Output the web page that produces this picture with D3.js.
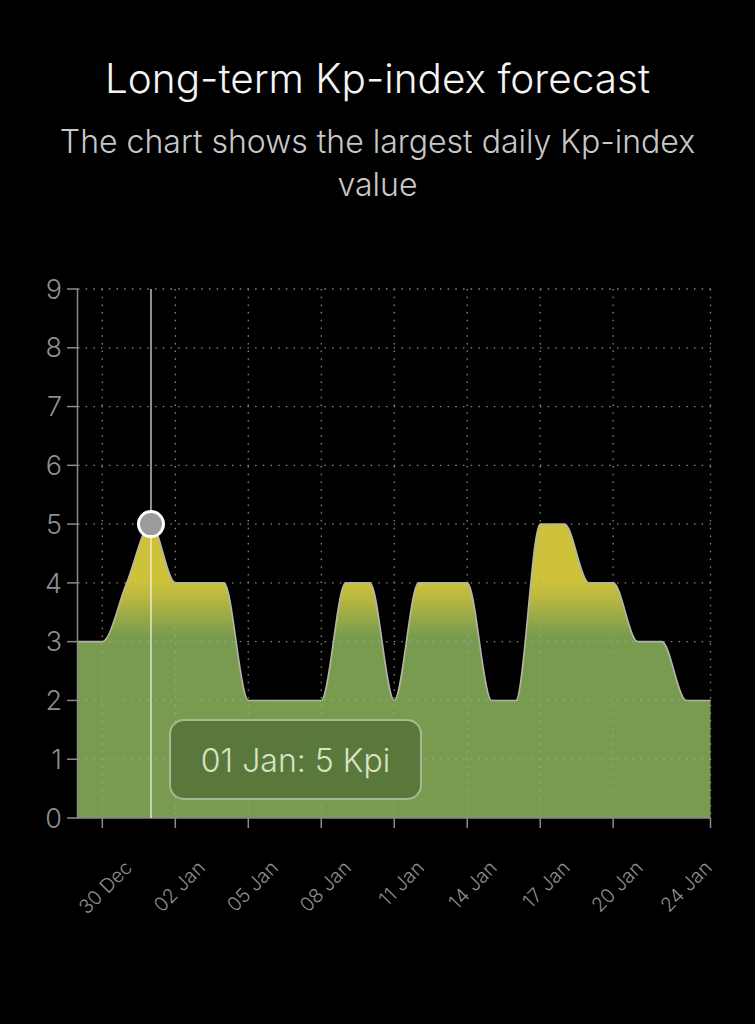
<!DOCTYPE html>
<html><head><meta charset="utf-8">
<script src="https://cdn.jsdelivr.net/npm/d3@7"></script>
<style>html,body{margin:0;background:#000;} svg{display:block}</style>
</head><body><svg id="c" width="755" height="1024"></svg>
<script>
const dates = ["2023-12-29","2023-12-30","2023-12-31","2024-01-01","2024-01-02","2024-01-03","2024-01-04","2024-01-05","2024-01-06","2024-01-07","2024-01-08","2024-01-09","2024-01-10","2024-01-11","2024-01-12","2024-01-13","2024-01-14","2024-01-15","2024-01-16","2024-01-17","2024-01-18","2024-01-19","2024-01-20","2024-01-21","2024-01-22","2024-01-23","2024-01-24"];
const kp = [3,3,4,5,4,4,4,2,2,2,2,4,4,2,4,4,4,2,2,5,5,4,4,3,3,2,2];
const tickDates = ["2023-12-30","2024-01-02","2024-01-05","2024-01-08","2024-01-11","2024-01-14","2024-01-17","2024-01-20","2024-01-24"];
const tickLabels = ["30 Dec","02 Jan","05 Jan","08 Jan","11 Jan","14 Jan","17 Jan","20 Jan","24 Jan"];
const yTicks = [0,1,2,3,4,5,6,7,8,9];
const titleText = "Long-term Kp-index forecast";
const subtitleLines = ["The chart shows the largest daily Kp-index","value"];
const highlightDate = "2024-01-01";
const highlightLabel = "01 Jan: 5 Kpi";

const parse = d3.utcParse("%Y-%m-%d");
const data = dates.map((d,i)=>({date:parse(d), v:kp[i]}));
const svg = d3.select("#c");
const FONT = "Inter, 'Helvetica Neue', 'Open Sans', sans-serif";

const x = d3.scaleUtc().domain(d3.extent(data,d=>d.date)).range([78,710.5]);
const y = d3.scaleLinear().domain([0,9]).range([818,289]);

// Title
svg.append("text").attr("x",377.5).attr("y",93).attr("text-anchor","middle")
  .attr("fill","#f4f4f4").attr("font-family",FONT).attr("font-weight",300)
  .attr("font-size",40.5).text(titleText);
const sub = svg.append("text").attr("text-anchor","middle").attr("fill","#c8c8c8")
  .attr("font-family",FONT).attr("font-weight",300).attr("font-size",32);
subtitleLines.forEach((l,i)=>sub.append("tspan").attr("x",377.5).attr("y",153+i*43).text(l));

// gradient
const defs = svg.append("defs");
const g = defs.append("linearGradient").attr("id","ag").attr("gradientUnits","userSpaceOnUse")
  .attr("x1",0).attr("x2",0).attr("y1",y(4.0)).attr("y2",y(3.1));
g.append("stop").attr("offset",0).attr("stop-color","#cdc23a");
g.append("stop").attr("offset",0.35).attr("stop-color","#b4b540");
g.append("stop").attr("offset",1).attr("stop-color","#799b4f");

// area
const area = d3.area().x(d=>x(d.date)).y0(y(0)).y1(d=>y(d.v)).curve(d3.curveMonotoneX);
const line = d3.line().x(d=>x(d.date)).y(d=>y(d.v)).curve(d3.curveMonotoneX);
svg.append("path").datum(data).attr("d",area).attr("fill","url(#ag)");
svg.append("path").datum(data).attr("d",line).attr("fill","none").attr("stroke","#b4b4a8").attr("stroke-width",1.6);

// grid
const grid = svg.append("g").attr("stroke","#a8a8a8").attr("stroke-width",1.3)
  .attr("stroke-dasharray","1.5 6.2").attr("opacity",0.8);
yTicks.filter(t=>t>0).forEach(t=>grid.append("line").attr("x1",x.range()[0]).attr("x2",x.range()[1]+1).attr("y1",y(t)).attr("y2",y(t)));
tickDates.map(parse).forEach(d=>grid.append("line").attr("x1",x(d)).attr("x2",x(d)).attr("y1",y(9)).attr("y2",y(0)));

// y axis
const ya = svg.append("g");
ya.append("line").attr("x1",77.5).attr("x2",77.5).attr("y1",y(9)).attr("y2",y(0)).attr("stroke","#8a8a8a").attr("stroke-width",1.5);
yTicks.forEach(t=>{
  ya.append("line").attr("x1",67).attr("x2",78).attr("y1",y(t)).attr("y2",y(t)).attr("stroke","#8a8a8a").attr("stroke-width",1.5);
  ya.append("text").attr("x",62).attr("y",y(t)).attr("dy","0.36em").attr("text-anchor","end")
    .attr("fill","#8e8e8e").attr("font-family",FONT).attr("font-weight",300).attr("font-size",27).text(t);
});

// x axis
const xa = svg.append("g");
xa.append("line").attr("x1",77).attr("x2",711).attr("y1",y(0)).attr("y2",y(0)).attr("stroke","#8a8a8a").attr("stroke-width",1.5);
tickDates.map(parse).forEach((d,i)=>{
  const tx = x(d);
  xa.append("line").attr("x1",tx).attr("x2",tx).attr("y1",y(0)).attr("y2",y(0)+10).attr("stroke","#8a8a8a").attr("stroke-width",1.5);
  const ax = Math.min(tx+31, 713);
  xa.append("text").attr("transform",`translate(${ax},869) rotate(-45)`).attr("text-anchor","end")
    .attr("fill","#8e8e8e").attr("font-family",FONT).attr("font-weight",300).attr("font-size",19.5).text(tickLabels[i]);
});

// highlight
const hd = parse(highlightDate);
const hv = data.find(d=>+d.date===+hd).v;
svg.append("line").attr("x1",x(hd)).attr("x2",x(hd)).attr("y1",y(9)).attr("y2",y(0))
  .attr("stroke","#ffffff").attr("stroke-opacity",0.7).attr("stroke-width",1.6);
svg.append("circle").attr("cx",x(hd)).attr("cy",y(hv)).attr("r",12.5)
  .attr("fill","#9b9b9b").attr("stroke","#ffffff").attr("stroke-width",3);

// tooltip
svg.append("rect").attr("x",170).attr("y",720).attr("width",251).attr("height",79).attr("rx",14)
  .attr("fill","#5b783c").attr("stroke","#a9b894").attr("stroke-width",2);
svg.append("text").attr("x",295.5).attr("y",760).attr("dy","0.36em").attr("text-anchor","middle")
  .attr("fill","#d6e3c4").attr("font-family",FONT).attr("font-weight",300).attr("font-size",32).text(highlightLabel);
</script></body></html>
